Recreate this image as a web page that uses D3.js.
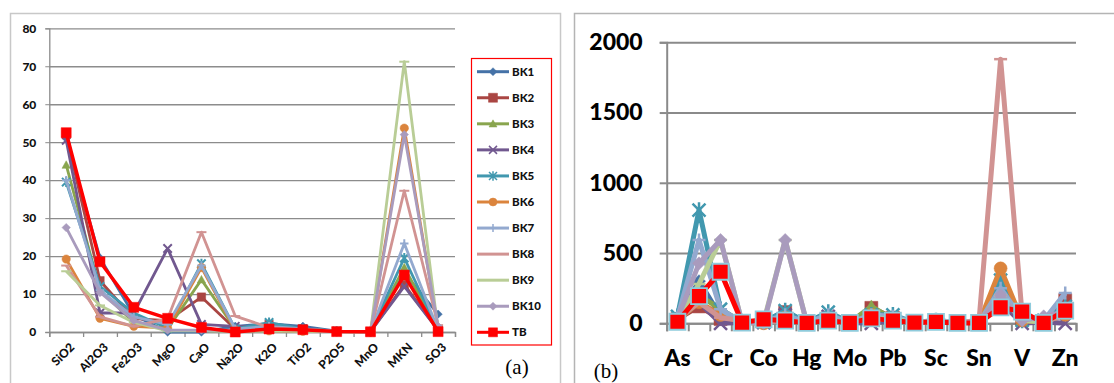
<!DOCTYPE html>
<html>
<head>
<meta charset="utf-8">
<script src="https://cdn.jsdelivr.net/npm/d3@7"></script>
<style>
  body { margin: 0; background: #fff; }
  svg { display: block; }
  text { font-family: Lato, "Open Sans", sans-serif; }
</style>
</head>
<body>
<svg id="chart" width="1114" height="383"></svg>
<script>
// ---- data: panel (a), oxides in %
const oxides = ["SiO2", "Al2O3", "Fe2O3", "MgO", "CaO", "Na2O", "K2O", "TiO2", "P2O5", "MnO", "MKN", "SO3"];
const bk1a  = [51, 19.5, 4.5, 0, 0, 1.5, 2.2, 1.5, 0.2, 0.1, 15.5, 4.7];
const bk2a  = [52, 13.5, 3.5, 3, 9.2, 0.8, 2, 0.8, 0.2, 0.1, 12.5, 0.5];
const bk3a  = [44, 11, 2.5, 0.8, 13.8, 0.8, 1.2, 0.8, 0.2, 0.1, 17, 0.5];
const bk4a  = [50.5, 5, 5, 22, 2, 1.5, 1.5, 0.8, 0.1, 0.1, 12, 0.5];
const bk5a  = [39.5, 12, 5, 1, 18, 0.8, 2.5, 0.8, 0.2, 0.1, 19.5, 0.5];
const bk6a  = [19.2, 3.6, 1.5, 1, 17, 0.5, 0.3, 0.2, 0.1, 0, 53.7, 1];
const bk7a  = [40, 11, 4, 2, 17.5, 0.8, 1.5, 0.8, 0.2, 0.1, 23.3, 0.5];
const bk8a  = [17.5, 4, 1.5, 3.5, 26.3, 4.2, 1.2, 0.5, 0.1, 0, 37.2, 1.8];
const bk9a  = [16, 7, 2.5, 0.3, 0.3, 0.2, 0.3, 0.2, 0.1, 0, 71.2, 0.5];
const bk10a = [27.5, 10.4, 3, 0.5, 0.5, 0.5, 0.8, 0.5, 0.1, 0, 52, 1.5];
const tba   = [52.5, 18.5, 6.5, 3.6, 1.2, 0, 0.8, 0.6, 0.1, 0.05, 15, 0.1];
const ticksA = [0, 10, 20, 30, 40, 50, 60, 70, 80];

// ---- data: panel (b), trace elements in ppm
const elements = ["As", "Ba", "Cr", "Cd", "Co", "Cu", "Hg", "Mn", "Mo", "Ni", "Pb", "Sb", "Sc", "Se", "Sn", "Sr", "V", "W", "Zn"];
const bk1b  = [40, 300, 50, 5, 10, 60, 5, 60, 5, 90, 40, 5, 10, 5, 5, 300, 20, 20, 120];
const bk2b  = [30, 120, 30, 5, 15, 80, 5, 40, 5, 110, 40, 5, 10, 5, 5, 200, 30, 10, 165];
const bk3b  = [30, 200, 100, 5, 10, 80, 5, 50, 5, 120, 30, 5, 10, 5, 5, 250, 20, 10, 100];
const bk4b  = [20, 150, 0, 5, 5, 60, 5, 50, 5, 0, 20, 5, 5, 5, 5, 150, 0, 10, 0];
const bk5b  = [50, 806, 100, 5, 10, 90, 5, 80, 5, 60, 60, 5, 20, 5, 5, 308, 20, 20, 120];
const bk6b  = [20, 150, 59, 5, 0, 40, 5, 30, 5, 60, 30, 5, 10, 5, 5, 391, 20, 10, 60];
const bk7b  = [40, 593, 100, 5, 10, 60, 5, 60, 5, 60, 50, 5, 20, 5, 5, 250, 30, 20, 215];
const bk8b  = [30, 150, 40, 20, 10, 20, 5, 20, 5, 40, 20, 5, 10, 5, 20, 1880, 60, 10, 60];
const bk9b  = [30, 280, 593, 5, 10, 593, 5, 20, 5, 40, 30, 5, 10, 5, 5, 200, 20, 10, 80];
const bk10b = [30, 427, 593, 5, 0, 593, 5, 20, 5, 40, 20, 5, 10, 5, 5, 200, 20, 50, 80];
const tbb   = [11, 194, 367, 5, 28, 19, 3, 19, 3, 35, 19, 5, 10, 3, 3, 114, 83, 3, 90];
const ticksB = [0, 500, 1000, 1500, 2000];

const names   = ["BK1", "BK2", "BK3", "BK4", "BK5", "BK6", "BK7", "BK8", "BK9", "BK10", "TB"];
const colors  = ["#4572A7", "#AA4643", "#89A54E", "#71588F", "#4198AF", "#DB843D", "#93A9CF", "#D19392", "#B9CD96", "#A99BBD", "#FF0000"];
const markers = ["diamond", "square", "triangle", "x", "star", "circle", "plus", "dash", "dash", "diamond", "square"];
const seriesA = [bk1a, bk2a, bk3a, bk4a, bk5a, bk6a, bk7a, bk8a, bk9a, bk10a, tba];
const seriesB = [bk1b, bk2b, bk3b, bk4b, bk5b, bk6b, bk7b, bk8b, bk9b, bk10b, tbb];

const svg = d3.select("#chart");

// marker path, s = half size
function markerPath(type, s) {
  switch (type) {
    case "diamond": return `M0,${-s}L${s},0L0,${s}L${-s},0Z`;
    case "square": return `M${-s},${-s}H${s}V${s}H${-s}Z`;
    case "triangle": return `M0,${-s}L${s},${s * 0.8}L${-s},${s * 0.8}Z`;
    case "circle": return d3.symbol(d3.symbolCircle, Math.PI * s * s)();
    case "x": return `M${-s},${-s}L${s},${s}M${-s},${s}L${s},${-s}`;
    case "star": return `M${-s},${-s}L${s},${s}M${-s},${s}L${s},${-s}M0,${-s * 1.2}V${s * 1.2}`;
    case "plus": return `M${-s},0H${s}M0,${-s}V${s}`;
    case "dash": return `M${-s},0H${s}`;
  }
}
const filled = t => ["diamond", "square", "triangle", "circle"].includes(t);

// panel frames
svg.append("rect").attr("x", 10.5).attr("y", 13.5).attr("width", 550).attr("height", 400)
  .attr("fill", "none").attr("stroke", "#c8c8c8").attr("stroke-width", 1.5);
svg.append("rect").attr("x", 574.5).attr("y", 13.5).attr("width", 600).attr("height", 400)
  .attr("fill", "none").attr("stroke", "#b4b4b4").attr("stroke-width", 1.5);

// ================= panel (a) =================
const xA = d3.scaleBand().domain(oxides).range([49.3, 455]);
const yA = d3.scaleLinear().domain([0, 80]).range([332, 28.3]);
const gA = svg.append("g");

gA.append("g")
  .attr("transform", "translate(49.3,0)")
  .call(d3.axisLeft(yA).tickValues(ticksA).tickSize(-(455 - 49.3)).tickFormat(""))
  .call(g => g.select(".domain").remove())
  .call(g => g.selectAll("line").attr("stroke", "#8c8c8c").attr("stroke-width", 1.3));

gA.append("g")
  .attr("transform", "translate(49.3,0)")
  .call(d3.axisLeft(yA).tickValues(ticksA).tickSize(4).tickPadding(9))
  .call(g => g.select(".domain").attr("stroke", "#8c8c8c").attr("stroke-width", 1.3))
  .call(g => g.selectAll("line").attr("stroke", "#8c8c8c"))
  .call(g => g.selectAll("text").attr("font-size", 12).attr("font-weight", 900).attr("fill", "#111"));

// x axis line with ticks at category boundaries
gA.append("g")
  .attr("transform", `translate(0,${yA(0)})`)
  .call(d3.axisBottom(d3.scaleLinear().domain([0, oxides.length]).range([49.3, 455]))
    .ticks(oxides.length).tickSize(5).tickFormat(""))
  .call(g => g.select(".domain").attr("stroke", "#8c8c8c").attr("stroke-width", 1.3))
  .call(g => g.selectAll("line").attr("stroke", "#8c8c8c").attr("stroke-width", 1.3));

gA.append("g").selectAll("text").data(oxides).join("text")
  .attr("transform", d => `translate(${xA(d) + xA.bandwidth() / 2 + 9},${yA(0) + 16}) rotate(-45)`)
  .attr("text-anchor", "end")
  .attr("font-size", 12).attr("font-weight", 900).attr("fill", "#111")
  .text(d => d);

const lineA = d3.line().x((d, i) => xA(oxides[i]) + xA.bandwidth() / 2).y(d => yA(d));
seriesA.forEach((vals, k) => {
  const g = gA.append("g");
  g.append("path").attr("d", lineA(vals)).attr("fill", "none")
    .attr("stroke", colors[k]).attr("stroke-width", k === 10 ? 3.5 : 2.8).attr("stroke-linejoin", "round");
  const s = k === 10 ? 5 : (markers[k] === "dash" ? 5 : 4.2);
  g.selectAll("path.m").data(vals).join("path").attr("class", "m")
    .attr("transform", (d, i) => `translate(${xA(oxides[i]) + xA.bandwidth() / 2},${yA(d)})`)
    .attr("d", markerPath(markers[k], s))
    .attr("fill", filled(markers[k]) ? colors[k] : "none")
    .attr("stroke", colors[k]).attr("stroke-width", filled(markers[k]) ? 0.5 : 2);
});

// legend
const leg = svg.append("g");
leg.append("rect").attr("x", 471.5).attr("y", 58.5).attr("width", 80).attr("height", 286.5)
  .attr("fill", "#fff").attr("stroke", "#ff0000").attr("stroke-width", 1.2);
names.forEach((n, k) => {
  const y = 71.7 + k * 26.06;
  leg.append("line").attr("x1", 477).attr("x2", 509).attr("y1", y).attr("y2", y)
    .attr("stroke", colors[k]).attr("stroke-width", 3);
  if (markers[k] !== "dash") {
    leg.append("path").attr("transform", `translate(493,${y})`)
      .attr("d", markerPath(markers[k], markers[k] === "square" ? 4.5 : 4))
      .attr("fill", filled(markers[k]) ? colors[k] : "none")
      .attr("stroke", colors[k]).attr("stroke-width", filled(markers[k]) ? 0.5 : 1.5);
  }
  leg.append("text").attr("x", 512).attr("y", y).attr("dy", "0.36em")
    .attr("font-size", 11.5).attr("font-weight", 900).attr("fill", "#111").text(n);
});

svg.append("text").attr("x", 517).attr("y", 367).attr("dy", "0.35em").attr("text-anchor", "middle")
  .style("font-family", "'Liberation Serif', 'DejaVu Serif', serif").attr("font-size", 21).text("(a)");

// ================= panel (b) =================
const xB = d3.scaleBand().domain(elements).range([666.7, 1076]);
const yB = d3.scaleLinear().domain([0, 2000]).range([323.3, 42.3]);
const gB = svg.append("g");

gB.append("g")
  .attr("transform", "translate(666.7,0)")
  .call(d3.axisLeft(yB).tickValues(ticksB).tickSize(-(1076 - 666.7)).tickFormat(""))
  .call(g => g.select(".domain").remove())
  .call(g => g.selectAll("line").attr("stroke", "#8a8a8a").attr("stroke-width", 2));

gB.append("g")
  .attr("transform", "translate(666.7,0)")
  .call(d3.axisLeft(yB).tickValues(ticksB).tickSize(7).tickPadding(17).tickFormat(d3.format("d")))
  .call(g => g.select(".domain").attr("stroke", "#8a8a8a").attr("stroke-width", 2))
  .call(g => g.selectAll("line").attr("stroke", "#8a8a8a").attr("stroke-width", 2))
  .call(g => g.selectAll("text").attr("font-size", 23).attr("font-weight", 900).attr("fill", "#000"));

gB.append("g")
  .attr("transform", `translate(0,${yB(0)})`)
  .call(d3.axisBottom(d3.scaleLinear().domain([0, elements.length]).range([666.7, 1076]))
    .ticks(elements.length).tickSize(8).tickFormat(""))
  .call(g => g.select(".domain").attr("stroke", "#8a8a8a").attr("stroke-width", 2))
  .call(g => g.selectAll("line").attr("stroke", "#8a8a8a").attr("stroke-width", 2));

gB.append("g").selectAll("text").data(elements.filter((d, i) => i % 2 === 0)).join("text")
  .attr("x", d => xB(d) + xB.bandwidth() / 2).attr("y", 366)
  .attr("text-anchor", "middle")
  .attr("font-size", 23).attr("font-weight", 900).attr("fill", "#000")
  .text(d => d);

const lineB = d3.line().x((d, i) => xB(elements[i]) + xB.bandwidth() / 2).y(d => yB(d));
seriesB.forEach((vals, k) => {
  const g = gB.append("g");
  g.append("path").attr("d", lineB(vals)).attr("fill", "none")
    .attr("stroke", colors[k]).attr("stroke-width", 5).attr("stroke-linejoin", "round");
  const s = k === 10 ? 8 : 6.5;
  g.selectAll("path.m").data(vals).join("path").attr("class", "m")
    .attr("transform", (d, i) => `translate(${xB(elements[i]) + xB.bandwidth() / 2},${yB(d)})`)
    .attr("d", markerPath(markers[k], s))
    .attr("fill", filled(markers[k]) ? colors[k] : "none")
    .attr("stroke", k === 10 ? "#8fcbdc" : colors[k])
    .attr("stroke-width", filled(markers[k]) ? (k === 10 ? 1.8 : 0.5) : 2.5);
});

svg.append("text").attr("x", 606).attr("y", 371).attr("dy", "0.35em").attr("text-anchor", "middle")
  .style("font-family", "'Liberation Serif', 'DejaVu Serif', serif").attr("font-size", 21).text("(b)");
</script>
</body>
</html>
